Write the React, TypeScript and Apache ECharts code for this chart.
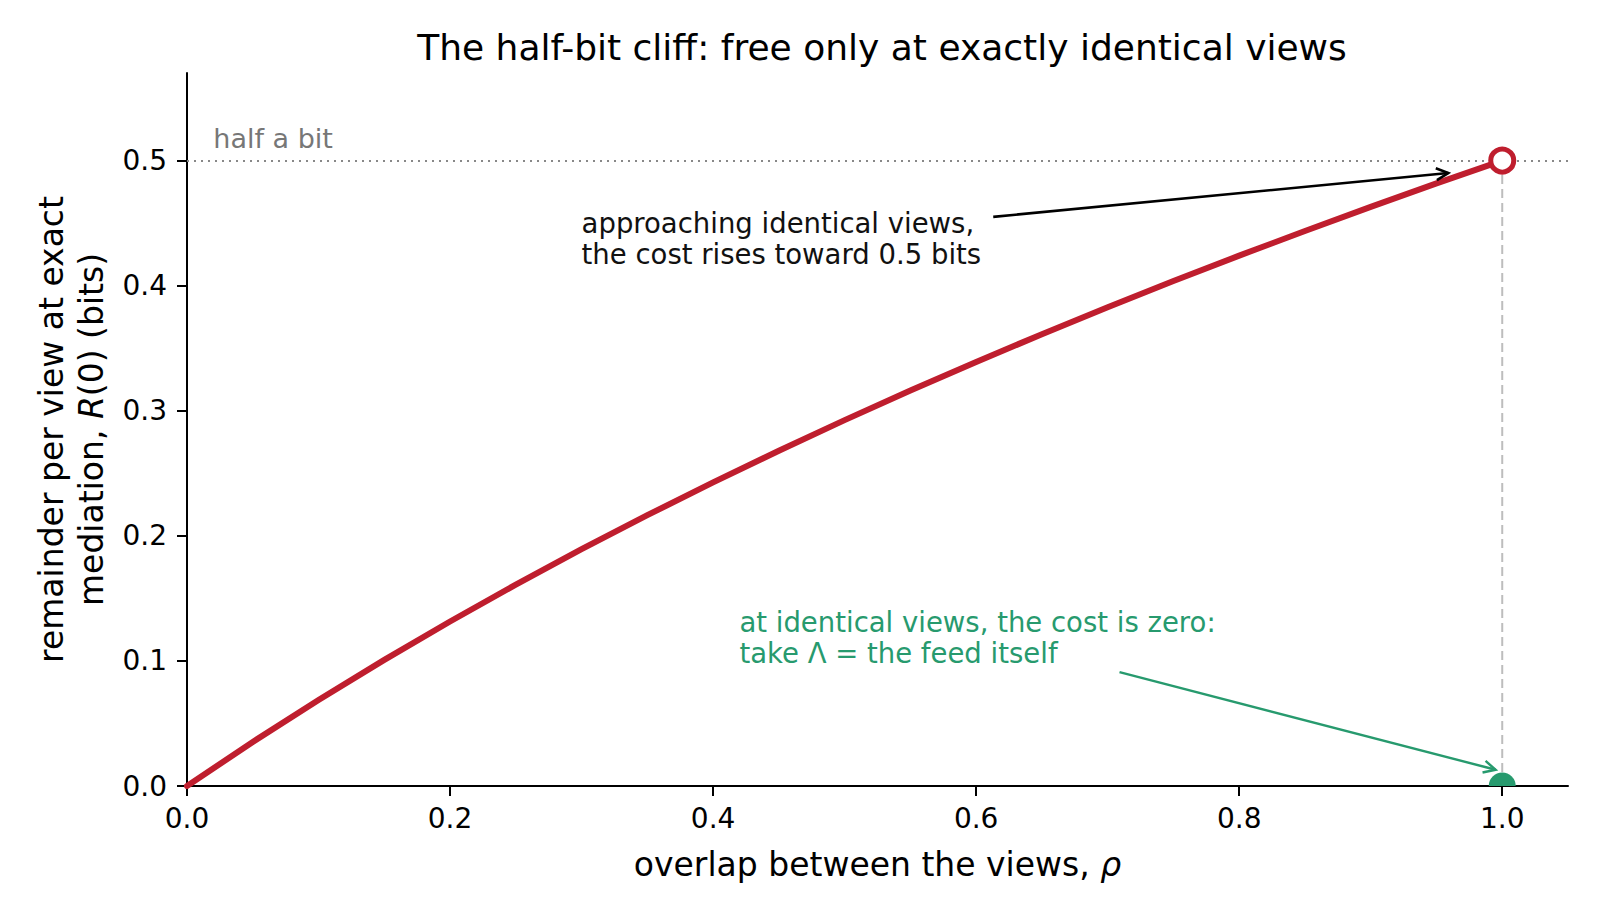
import React, { useEffect, useRef } from "react";
import * as echarts from "echarts";

// ---- data ----
const rho = [0, 0.05, 0.1, 0.15, 0.2, 0.25, 0.3, 0.35, 0.4, 0.45, 0.5, 0.55, 0.6, 0.65, 0.7, 0.75, 0.8, 0.85, 0.9, 0.95, 1.0];
const remainder = [0, 0.0352, 0.0688, 0.1008, 0.1315, 0.161, 0.1893, 0.2165, 0.2427, 0.268, 0.2925, 0.3161, 0.339, 0.3612, 0.3828, 0.4037, 0.424, 0.4437, 0.463, 0.4818, 0.5];
const xTicks = [0, 0.2, 0.4, 0.6, 0.8, 1.0];
const yTicks = [0, 0.1, 0.2, 0.3, 0.4, 0.5];
const halfBit = 0.5;
const openPoint = [1.0, 0.5];
const zeroPoint = [1.0, 0.0];
const guideLine = [[1.0, 0.0], [1.0, 0.5]];
const arrowBlack = [[0.613, 0.455], [0.959, 0.49]];
const arrowGreen = [[0.709, 0.091], [0.995, 0.013]];
const halfBitLabelPos = [0.02, 0.518];
const blackNotePos = [0.3, 0.438];
const greenNotePos = [0.42, 0.119];

const TITLE = "The half-bit cliff: free only at exactly identical views";
const BLACK_NOTE = "approaching identical views,\nthe cost rises toward 0.5 bits";
const GREEN_NOTE = "at identical views, the cost is zero:\ntake Λ = the feed itself";

const RED = "#bf1e2e";
const GREEN = "#279a6e";
const FONT = "DejaVu Sans";

export default function App() {
  const ref = useRef<HTMLDivElement>(null);

  useEffect(() => {
    if (!ref.current) return;
    const chart = echarts.init(ref.current, undefined, { renderer: "svg" });

    const option: any = {
      animation: false,
      backgroundColor: "#ffffff",
      textStyle: { fontFamily: FONT },
      title: {
        text: TITLE,
        left: 877,
        top: 24,
        textAlign: "center",
        textStyle: { fontFamily: FONT, fontSize: 36, fontWeight: "normal", color: "#000" },
      },
      grid: { left: 187, right: 32, top: 73, bottom: 133 },
      xAxis: {
        type: "value",
        min: 0,
        max: 1.05,
        interval: 0.2,
        name: "overlap between the views, {i|ρ}",
        nameLocation: "middle",
        nameGap: 62,
        nameTextStyle: {
          fontFamily: FONT,
          fontSize: 33,
          color: "#000",
          rich: { i: { fontFamily: FONT, fontSize: 33, fontStyle: "italic", color: "#000" } },
        },
        axisLine: { show: true, lineStyle: { color: "#000", width: 2 } },
        axisTick: { show: true, inside: false, length: 10, lineStyle: { color: "#000", width: 2 }, customValues: xTicks },
        axisLabel: {
          fontFamily: FONT,
          fontSize: 28,
          color: "#000",
          margin: 18,
          customValues: xTicks,
          formatter: (v: number) => v.toFixed(1),
        },
        splitLine: { show: false },
      },
      yAxis: {
        type: "value",
        min: 0,
        max: 0.57,
        interval: 0.1,
        name: "remainder per view at exact\nmediation, {i|R}(0) (bits)",
        nameLocation: "middle",
        nameRotate: 90,
        nameGap: 72,
        nameTextStyle: {
          fontFamily: FONT,
          fontSize: 33,
          lineHeight: 40,
          color: "#000",
          align: "center",
          rich: { i: { fontFamily: FONT, fontSize: 33, lineHeight: 40, fontStyle: "italic", color: "#000" } },
        },
        axisLine: { show: true, lineStyle: { color: "#000", width: 2 } },
        axisTick: { show: true, inside: false, length: 10, lineStyle: { color: "#000", width: 2 }, customValues: yTicks },
        axisLabel: {
          fontFamily: FONT,
          fontSize: 28,
          color: "#000",
          margin: 20,
          customValues: yTicks,
          formatter: (v: number) => v.toFixed(1),
        },
        splitLine: { show: false },
      },
      series: [
        {
          type: "line",
          name: "half a bit",
          data: [],
          silent: true,
          markLine: {
            silent: true,
            symbol: "none",
            label: { show: false },
            lineStyle: { color: "#888", width: 2, type: [2, 5] },
            data: [{ yAxis: halfBit }],
          },
        },
        {
          type: "line",
          name: "guide",
          data: guideLine,
          showSymbol: false,
          symbol: "none",
          lineStyle: { color: "#bdbdbd", width: 2, type: [9, 5] },
          z: 2,
        },
        {
          type: "line",
          name: "R(0)",
          data: rho.map((r, i) => [r, remainder[i]]),
          showSymbol: false,
          symbol: "none",
          smooth: false,
          lineStyle: { color: RED, width: 6, join: "round", cap: "round" },
          z: 3,
        },
        {
          type: "scatter",
          name: "identical limit",
          data: [openPoint],
          symbol: "circle",
          symbolSize: 23,
          itemStyle: { color: "#fff", borderColor: RED, borderWidth: 5, opacity: 1 },
          z: 5,
        },
        {
          type: "scatter",
          name: "zero cost",
          data: [zeroPoint],
          symbol: "path://M0,10A10,10,0,0,1,20,10Z",
          symbolSize: [27, 13.5],
          symbolOffset: [0, -6.75],
          itemStyle: { color: GREEN, opacity: 1 },
          z: 4,
        },
      ],
    };

    chart.setOption(option);

    const px = (p: number[]) => chart.convertToPixel({ gridIndex: 0 }, p) as number[];

    const arrow = (seg: number[][], color: string, width: number) => {
      const s = px(seg[0]);
      const t = px(seg[1]);
      const dx = t[0] - s[0];
      const dy = t[1] - s[1];
      const len = Math.hypot(dx, dy);
      const ux = dx / len;
      const uy = dy / len;
      const L = 12;
      const W = 6;
      const bx = t[0] - L * ux;
      const by = t[1] - L * uy;
      return [
        {
          type: "line",
          shape: { x1: s[0], y1: s[1], x2: t[0], y2: t[1] },
          style: { stroke: color, lineWidth: width },
          z: 10,
        },
        {
          type: "polyline",
          shape: {
            points: [
              [bx - W * uy, by + W * ux],
              [t[0], t[1]],
              [bx + W * uy, by - W * ux],
            ],
          },
          style: { stroke: color, lineWidth: width, fill: "none" },
          z: 10,
        },
      ];
    };

    const hb = px(halfBitLabelPos);
    const bn = px(blackNotePos);
    const gn = px(greenNotePos);

    chart.setOption({
      graphic: [
        ...arrow(arrowBlack, "#000", 2.6),
        ...arrow(arrowGreen, GREEN, 2.4),
        {
          type: "text",
          x: hb[0],
          y: hb[1],
          style: { text: "half a bit", fontFamily: FONT, fontSize: 27, fill: "#777", align: "left", verticalAlign: "middle" },
          z: 10,
        },
        {
          type: "text",
          x: bn[0],
          y: bn[1],
          style: { text: BLACK_NOTE, fontFamily: FONT, fontSize: 27.5, lineHeight: 31, fill: "#111", align: "left", verticalAlign: "middle" },
          z: 10,
        },
        {
          type: "text",
          x: gn[0],
          y: gn[1],
          style: { text: GREEN_NOTE, fontFamily: FONT, fontSize: 27.5, lineHeight: 31, fill: GREEN, align: "left", verticalAlign: "middle" },
          z: 10,
        },
      ],
    });

    return () => chart.dispose();
  }, []);

  return (
    <div
      ref={ref}
      style={{ position: "fixed", left: 0, top: 0, width: 1600, height: 919, background: "#fff" }}
    />
  );
}
